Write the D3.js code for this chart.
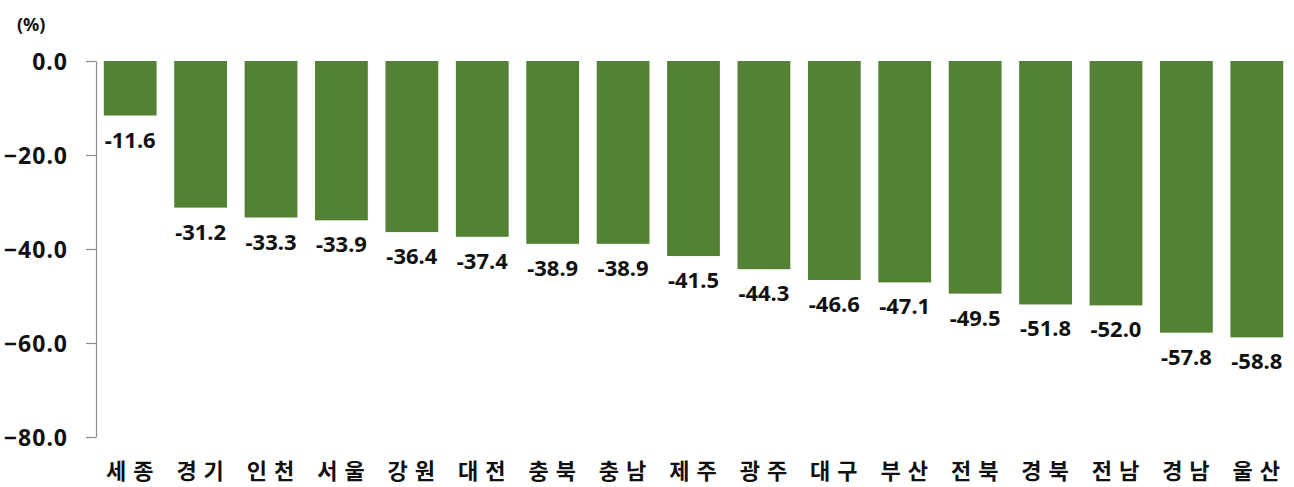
<!DOCTYPE html>
<html>
<head>
<meta charset="utf-8">
<script src="https://cdn.jsdelivr.net/npm/d3@7"></script>
<style>
  html, body { margin: 0; padding: 0; background: #fff; }
  svg { display: block; }
</style>
</head>
<body>
<svg id="chart" width="1294" height="487"></svg>
<script>
// Regions and their percentage change
const regions = ["세종", "경기", "인천", "서울", "강원", "대전", "충북", "충남", "제주", "광주", "대구", "부산", "전북", "경북", "전남", "경남", "울산"];
const values = [-11.6, -31.2, -33.3, -33.9, -36.4, -37.4, -38.9, -38.9, -41.5, -44.3, -46.6, -47.1, -49.5, -51.8, -52.0, -57.8, -58.8];
const yTicks = [0, -20, -40, -60, -80];

const svg = d3.select("#chart");
const numFont = "'Noto Sans', 'DejaVu Sans', sans-serif";
const krFont = "'Noto Sans CJK KR', sans-serif";
const textColor = "#111";

const x = d3.scaleBand()
  .domain(regions)
  .range([95, 1292])
  .paddingInner(0.25)
  .paddingOuter(0.125);

const y = d3.scaleLinear()
  .domain([0, -80])
  .range([61, 437]);

// Y axis
const yAxis = svg.append("g")
  .attr("transform", "translate(96,0)")
  .call(d3.axisLeft(y).tickValues(yTicks).tickSize(10).tickSizeOuter(0).tickPadding(18).tickFormat(d3.format(".1f")));
yAxis.select(".domain").attr("stroke", "#8c8c8c").attr("stroke-width", 1.2);
yAxis.selectAll(".tick line").attr("stroke", "#8c8c8c").attr("stroke-width", 1.2);
yAxis.selectAll(".tick text")
  .attr("fill", textColor)
  .style("font-family", numFont)
  .style("font-weight", "bold")
  .style("font-size", "23px")
  .style("letter-spacing", "1px")
  .attr("dy", "0.35em");

// Unit label
svg.append("text")
  .attr("x", 17)
  .attr("y", 31)
  .attr("fill", textColor)
  .style("font-family", numFont)
  .style("font-weight", "bold")
  .style("font-size", "18px")
  .text("(%)");

// Bars
svg.append("g").selectAll("rect")
  .data(values)
  .join("rect")
  .attr("x", (d, i) => x(regions[i]))
  .attr("y", y(0))
  .attr("width", x.bandwidth())
  .attr("height", d => y(d) - y(0))
  .attr("fill", "#548235");

// Value labels
svg.append("g").selectAll("text")
  .data(values)
  .join("text")
  .attr("x", (d, i) => x(regions[i]) + x.bandwidth() / 2)
  .attr("y", d => y(d) + 32)
  .attr("text-anchor", "middle")
  .attr("fill", textColor)
  .style("font-family", numFont)
  .style("font-weight", "bold")
  .style("font-size", "22px")
  .text(d => d.toFixed(1));

// Category labels
svg.append("g").selectAll("text")
  .data(regions)
  .join("text")
  .attr("x", d => x(d) + x.bandwidth() / 2 + 3)
  .attr("y", 479)
  .attr("text-anchor", "middle")
  .attr("fill", textColor)
  .style("font-family", krFont)
  .style("font-weight", "bold")
  .style("font-size", "22px")
  .style("letter-spacing", "7px")
  .text(d => d);
</script>
</body>
</html>
